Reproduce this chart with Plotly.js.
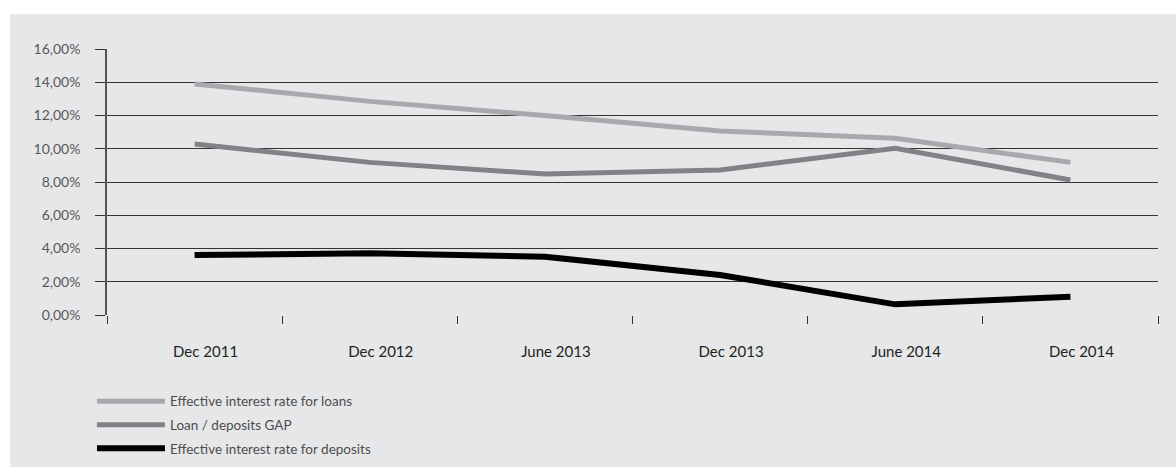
<!DOCTYPE html>
<html>
<head>
<meta charset="utf-8">
<script src="https://cdn.plot.ly/plotly-3.0.1.min.js"></script>
<style>
  html, body { margin: 0; padding: 0; background: #ffffff; }
  #chart { position: absolute; left: 10px; top: 14px; width: 1166px; height: 453px; }
</style>
</head>
<body>
<div id="chart"></div>
<script>
const categories = ["Dec 2011", "Dec 2012", "June 2013", "Dec 2013", "June 2014", "Dec 2014"];
const loansRate = [13.9, 12.85, 12.0, 11.07, 10.63, 9.18];
const gapRate = [10.29, 9.18, 8.48, 8.72, 10.03, 8.12];
const depositsRate = [3.61, 3.71, 3.51, 2.41, 0.64, 1.10];
const yTickVals = [0, 2, 4, 6, 8, 10, 12, 14, 16];
const yTickText = ["0,00%", "2,00%", "4,00%", "6,00%", "8,00%", "10,00%", "12,00%", "14,00%", "16,00%"];
const seriesNames = ["Effective interest rate for loans", "Loan / deposits GAP", "Effective interest rate for deposits"];

const traces = [
  { x: categories, y: loansRate, name: seriesNames[0], type: "scatter", mode: "lines",
    line: { color: "#a7a9ac", width: 5 }, legendgroup: "a" },
  { x: categories, y: gapRate, name: seriesNames[1], type: "scatter", mode: "lines",
    line: { color: "#808285", width: 5 }, legendgroup: "b" },
  { x: categories, y: depositsRate, name: seriesNames[2], type: "scatter", mode: "lines",
    line: { color: "#000000", width: 6 }, legendgroup: "c" }
];

const layout = {
  paper_bgcolor: "#e6e7e8",
  plot_bgcolor: "#e6e7e8",
  margin: { l: 97, r: 18, t: 35, b: 152, autoexpand: false },
  font: { family: "Lato, 'Open Sans', sans-serif", color: "#231f20" },
  showlegend: true,
  legend: {
    xref: "container", yref: "container",
    x: 0.0703, xanchor: "left", y: 0.179, yanchor: "top",
    orientation: "v", traceorder: "grouped", tracegroupgap: 3,
    itemwidth: 68,
    bgcolor: "rgba(0,0,0,0)", font: { size: 13.5, color: "#4d4d4f" }
  },
  xaxis: {
    type: "category", range: [-0.5, 5.5], tickson: "boundaries",
    ticks: "outside", ticklen: 8, tickcolor: "#333333", tickwidth: 1,
    showgrid: false, zeroline: false, showline: false, automargin: false,
    tickfont: { size: 15, color: "#231f20" }, ticklabelstandoff: 26, ticklabelshift: 11
  },
  yaxis: {
    range: [0, 16], tickvals: yTickVals, ticktext: yTickText,
    ticks: "outside", ticklen: 10, tickcolor: "#333333", tickwidth: 1,
    showgrid: true, gridcolor: "#333333", gridwidth: 1,
    zeroline: false, showline: true, linecolor: "#555555", linewidth: 1.5, automargin: false,
    tickfont: { size: 14, color: "#58595b" }, ticklabelstandoff: 12
  }
};

Plotly.newPlot("chart", traces, layout, { displayModeBar: false, responsive: false });
</script>
</body>
</html>
